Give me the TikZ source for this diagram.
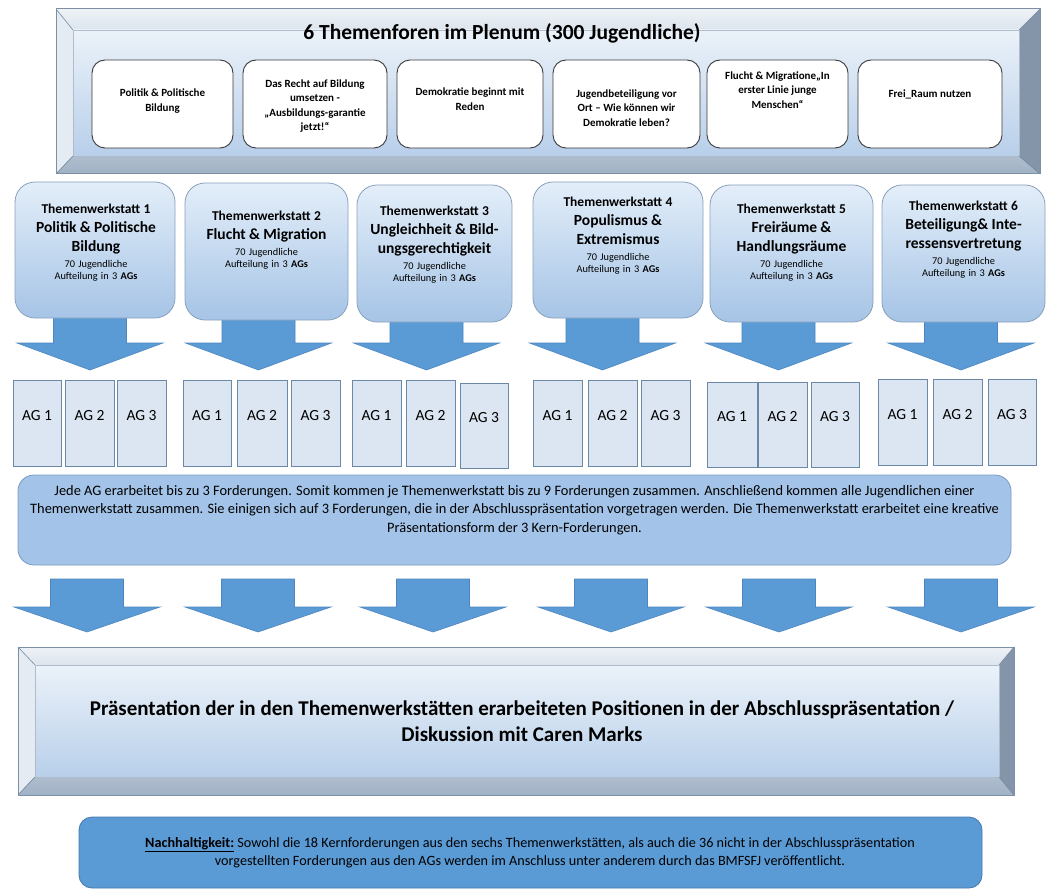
\documentclass[tikz,border=0pt]{standalone}
\usepackage{fontspec}
\setmainfont{Carlito}
\usetikzlibrary{calc}

\definecolor{cardline}{HTML}{3A3A3A}
\definecolor{twtop}{HTML}{E3EEF9}
\definecolor{twbot}{HTML}{A6C4E6}
\definecolor{twline}{HTML}{8AA1BC}
\definecolor{agfill}{HTML}{DCE6F2}
\definecolor{agline}{HTML}{6B88A7}
\definecolor{arrowfill}{HTML}{5B9BD5}
\definecolor{arrowline}{HTML}{4E86C0}
\definecolor{descfill}{HTML}{A3C4E8}
\definecolor{descline}{HTML}{7A9CC2}
\definecolor{nachfill}{HTML}{5B9BD5}
\definecolor{nachline}{HTML}{4677AA}
\definecolor{bvtopA}{HTML}{EEF2F6}
\definecolor{bvtopB}{HTML}{DCE4ED}
\definecolor{bvleft}{HTML}{E4EBF2}
\definecolor{bvright}{HTML}{8495AA}
\definecolor{bvbottom}{HTML}{A1B2C5}
\definecolor{bvline}{HTML}{7B8FA5}
\definecolor{facetop}{HTML}{EBF2F9}
\definecolor{facebot}{HTML}{B8CFEA}

% rounded or plain box given by its corners: style, name, x1, y1, x2, y2
\newcommand\cornerbox[6]{%
  \node[#1, minimum width={#5-#3}, minimum height={#6-#4}] (#2)
    at ({(#3+#5)/2},{(#4+#6)/2}) {};}

% working-group box with its label: name, x1, y1, x2, y2, label
\newcommand\agbox[6]{%
  \node[agbox, minimum width={#4-#2}, minimum height={#5-#3}] (#1)
    at ({(#2+#4)/2},{(#3+#5)/2}) {#6};}

% broad downward block arrow: centre x, top of shaft, base of head, tip
\newcommand\blockarrow[4]{%
  \filldraw[arrowbody] ({#1-36.5},#2) -- ({#1+36.5},#2) -- ({#1+36.5},#3)
    -- ({#1+73},#3) -- (#1,#4) -- ({#1-73},#3) -- ({#1-36.5},#3) -- cycle;}

% bevelled panel: name, outer x1,y1,x2,y2, inner x1,y1,x2,y2
\newcommand\bevelbox[9]{%
  \coordinate (#1-o1) at (#2,#3); \coordinate (#1-o2) at (#4,#3);
  \coordinate (#1-o3) at (#4,#5); \coordinate (#1-o4) at (#2,#5);
  \coordinate (#1-i1) at (#6,#7); \coordinate (#1-i2) at (#8,#7);
  \coordinate (#1-i3) at (#8,#9); \coordinate (#1-i4) at (#6,#9);
  \fill[top color=bvtopA, bottom color=bvtopB]
    (#1-o1) -- (#1-o2) -- (#1-i2) -- (#1-i1) -- cycle;
  \fill[bvleft] (#1-o1) -- (#1-i1) -- (#1-i4) -- (#1-o4) -- cycle;
  \fill[bvright] (#1-o2) -- (#1-o3) -- (#1-i3) -- (#1-i2) -- cycle;
  \fill[top color=bvbottom!85!white, bottom color=bvbottom]
    (#1-o4) -- (#1-i4) -- (#1-i3) -- (#1-o3) -- cycle;
  \node[face, minimum width={#8-#6}, minimum height={#9-#7}] (#1)
    at ({(#6+#8)/2},{(#7+#9)/2}) {};
  \draw[bvline, line width=0.6] (#1-o1) -- (#1-i1) (#1-o2) -- (#1-i2)
    (#1-o3) -- (#1-i3) (#1-o4) -- (#1-i4);
  \draw[bvline, line width=1] (#1-o1) rectangle (#1-o3);}

% lines inside a workshop box
\newcommand\twhead[1]{\fontsize{13.5}{16}\selectfont\bfseries #1\par}
\newcommand\twtitle[1]{\fontsize{15.5}{19}\selectfont\bfseries #1\par}
\newcommand\twcount{\fontsize{10.3}{16}\selectfont\mdseries 70 Jugendliche\par
  \fontsize{10.3}{12}\selectfont Aufteilung in 3 \textbf{AGs}\par}

\begin{document}
\begin{tikzpicture}[x=1pt, y=-1pt,
  every node/.style={inner sep=0pt, outer sep=0pt},
  face/.style={rectangle, top color=facetop, bottom color=facebot,
    draw=bvline!60, line width=0.5},
  card/.style={rectangle, rounded corners=13pt, draw=cardline, fill=white,
    line width=0.9},
  cardtext/.style={align=center, font=\fontsize{11}{14.5}\selectfont\bfseries},
  twbox/.style={rectangle, rounded corners=20pt, draw=twline,
    top color=twtop, bottom color=twbot, line width=0.8},
  twtext/.style={text width=160pt, align=center, anchor=north,
    execute at begin node=\setlength{\parindent}{0pt}},
  agbox/.style={rectangle, draw=agline, fill=agfill, line width=0.9,
    font=\fontsize{15.5}{18}\selectfont, text depth=16pt},
  arrowbody/.style={fill=arrowfill, draw=arrowline, line width=0.6},
  descbox/.style={rectangle, rounded corners=16pt, draw=descline,
    fill=descfill, line width=0.8},
  nachbox/.style={rectangle, rounded corners=13pt, draw=nachline,
    fill=nachfill, line width=0.8}]

\useasboundingbox (0,0) rectangle (1051,893);
\fill[white] (0,0) rectangle (1051,893);

% ---------- plenum with the six forums ----------
\bevelbox{plenum}{56}{9}{1040}{174}{73}{30}{1019}{156}
\node[anchor=base, font=\fontsize{21.5}{25}\selectfont\bfseries]
  (plenumtitle) at (502,40) {6 Themenforen im Plenum (300 Jugendliche)};

\cornerbox{card}{f1}{92}{60}{233}{148}
\cornerbox{card}{f2}{243}{60}{387}{148}
\cornerbox{card}{f3}{397}{60}{543}{148}
\cornerbox{card}{f4}{553}{60}{700}{148}
\cornerbox{card}{f5}{707}{60}{848}{148}
\cornerbox{card}{f6}{858}{60}{1002}{148}

\node[cardtext] (f1t) at (162.5,101) {Politik \& Politische\\Bildung};
\node[cardtext] (f2t) at (315,106) {Das Recht auf Bildung\\umsetzen -\\„Ausbildungs-garantie\\jetzt!“};
\node[cardtext] (f3t) at (470,99) {Demokratie beginnt mit\\Reden};
\node[cardtext] (f4t) at (626.5,108) {Jugendbeteiligung vor\\Ort – Wie können wir\\Demokratie leben?};
\node[cardtext] (f5t) at (777.5,90) {Flucht \& Migratione„In\\erster Linie junge\\Menschen“};
\node[cardtext] (f6t) at (930,94) {Frei\_Raum nutzen};

% ---------- arrows into the working groups ----------
\blockarrow{90}{300}{343}{370}
\blockarrow{258.5}{300}{343}{370}
\blockarrow{426.5}{300}{343}{370}
\blockarrow{602.5}{300}{343}{370}
\blockarrow{778.5}{300}{343}{370}
\blockarrow{961}{300}{343}{370}

% ---------- six workshops ----------
\cornerbox{twbox}{tw1}{15}{182}{175}{318}
\cornerbox{twbox}{tw2}{185}{183}{348}{320}
\cornerbox{twbox}{tw3}{357}{185}{512}{322}
\cornerbox{twbox}{tw4}{533}{182}{703}{318}
\cornerbox{twbox}{tw5}{710}{185}{873}{322}
\cornerbox{twbox}{tw6}{882}{185}{1045}{322}

\node[twtext] (tw1t) at (96,204.5)
  {\twhead{Themenwerkstatt 1}\twtitle{Politik \& Politische}\twtitle{Bildung}\twcount};
\node[twtext] (tw2t) at (266.5,211)
  {\twhead{Themenwerkstatt 2}\twtitle{Flucht \& Migration}\twcount};
\node[twtext] (tw3t) at (434.5,206)
  {\twhead{Themenwerkstatt 3}\twtitle{Ungleichheit \& Bild-}\twtitle{ungsgerechtigkeit}\twcount};
\node[twtext] (tw4t) at (618,197.5)
  {\twhead{Themenwerkstatt 4}\twtitle{Populismus \&}\twtitle{Extremismus}\twcount};
\node[twtext] (tw5t) at (791.5,204.5)
  {\twhead{Themenwerkstatt 5}\twtitle{Freiräume \&}\twtitle{Handlungsräume}\twcount};
\node[twtext] (tw6t) at (963.5,201.5)
  {\twhead{Themenwerkstatt 6}\twtitle{Beteiligung\& Inte-}\twtitle{ressensvertretung}\twcount};

% ---------- working groups ----------
\agbox{ag11}{13}{380}{61}{466}{AG 1}
\agbox{ag12}{65}{380}{114}{466}{AG 2}
\agbox{ag13}{117}{380}{166}{466}{AG 3}
\agbox{ag21}{183}{380}{231}{466}{AG 1}
\agbox{ag22}{237}{380}{287}{466}{AG 2}
\agbox{ag23}{291}{380}{340}{466}{AG 3}
\agbox{ag31}{352}{380}{401}{466}{AG 1}
\agbox{ag32}{406}{380}{455}{466}{AG 2}
\agbox{ag33}{460}{383}{508}{468}{AG 3}
\agbox{ag41}{533}{380}{582}{466}{AG 1}
\agbox{ag42}{588}{380}{637}{466}{AG 2}
\agbox{ag43}{641}{380}{690}{466}{AG 3}
\agbox{ag51}{707}{382}{757}{467}{AG 1}
\agbox{ag52}{758}{382}{807}{467}{AG 2}
\agbox{ag53}{811}{382}{859}{467}{AG 3}
\agbox{ag61}{878}{379}{927}{465}{AG 1}
\agbox{ag62}{933}{379}{982}{465}{AG 2}
\agbox{ag63}{988}{379}{1036}{465}{AG 3}

% ---------- how the demands are gathered ----------
\cornerbox{descbox}{desc}{18}{475}{1011}{565}
\node[align=center, font=\fontsize{14.4}{18.5}\selectfont] (desct) at (514.5,510)
  {Jede AG erarbeitet bis zu 3 Forderungen. Somit kommen je Themenwerkstatt bis zu 9 Forderungen zusammen. Anschließend kommen alle Jugendlichen einer\\
   Themenwerkstatt zusammen. Sie einigen sich auf 3 Forderungen, die in der Abschlusspräsentation vorgetragen werden. Die Themenwerkstatt erarbeitet eine kreative\\
   Präsentationsform der 3 Kern-Forderungen.};

\blockarrow{87}{579}{607}{632}
\blockarrow{258}{579}{607}{632}
\blockarrow{433}{579}{607}{632}
\blockarrow{611}{579}{607}{632}
\blockarrow{779}{579}{607}{632}
\blockarrow{961}{579}{607}{632}

% ---------- final presentation ----------
\bevelbox{final}{18}{647}{1014}{795}{35}{665}{999}{777}
\node[align=center, font=\fontsize{21}{26}\selectfont\bfseries] (finalt) at (522,721)
  {Präsentation der in den Themenwerkstätten erarbeiteten Positionen in der Abschlusspräsentation /\\
   Diskussion mit Caren Marks};

% ---------- sustainability note ----------
\cornerbox{nachbox}{nach}{79}{817}{982}{888}
\node[align=center, font=\fontsize{14.2}{18}\selectfont] (nacht) at (530,853)
  {\underline{\textbf{Nachhaltigkeit:}} Sowohl die 18 Kernforderungen aus den sechs Themenwerkstätten, als auch die 36 nicht in der Abschlusspräsentation\\
   vorgestellten Forderungen aus den AGs werden im Anschluss unter anderem durch das BMFSFJ veröffentlicht.};

\end{tikzpicture}
\end{document}
